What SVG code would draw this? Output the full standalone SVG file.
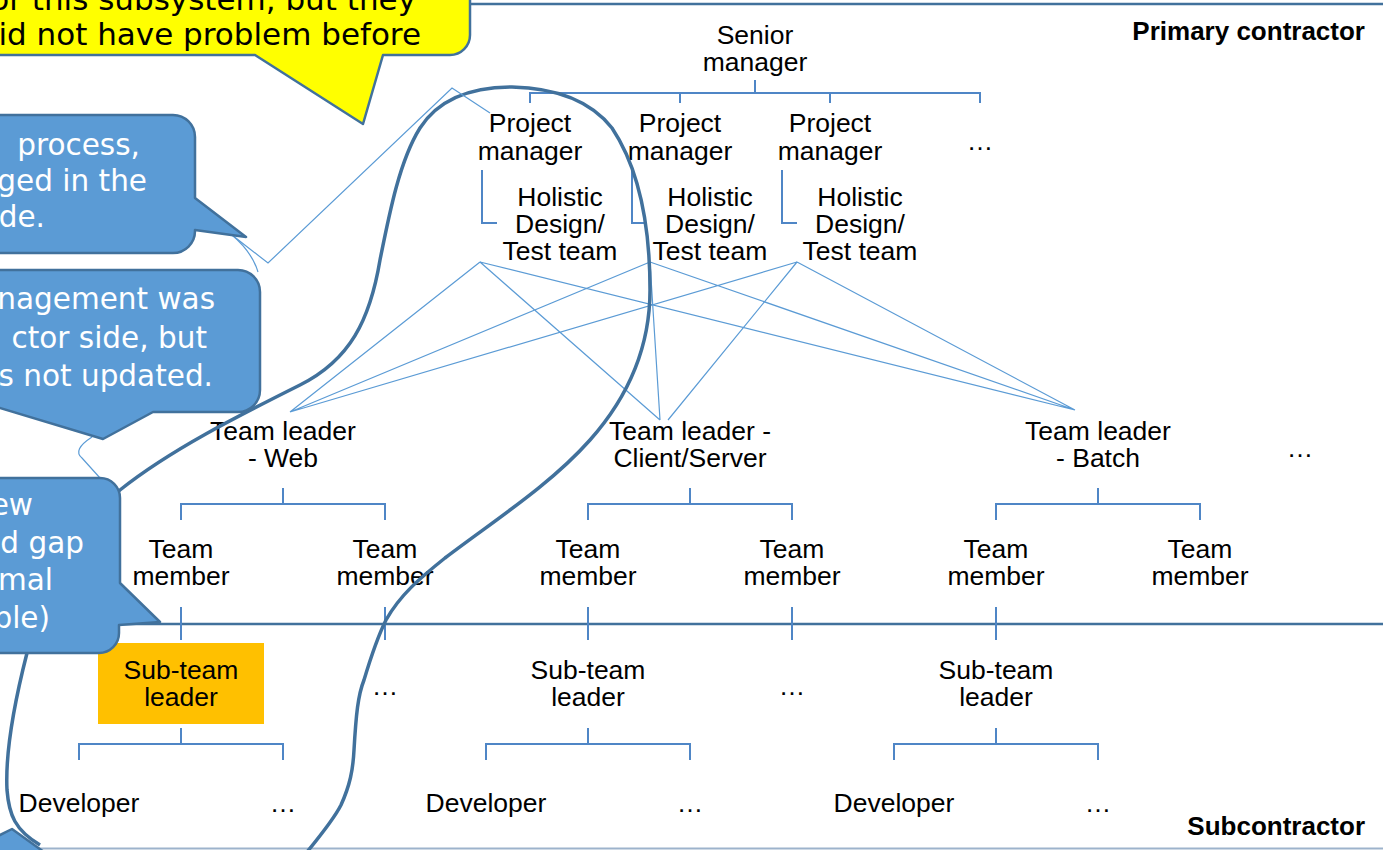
<svg xmlns="http://www.w3.org/2000/svg" width="1383" height="850" viewBox="0 0 1383 850">
  <defs>
    <style>
      .lbl { font-family: "Liberation Sans", Arial, sans-serif; font-size: 26.5px; fill: #000; text-anchor: middle; }
      .zone { font-family: "Liberation Sans", Arial, sans-serif; font-size: 26px; font-weight: bold; fill: #000; text-anchor: end; }
      .tree { fill: none; stroke: #4F86C6; stroke-width: 2; }
      .thin { fill: none; stroke: #5B9BD5; stroke-width: 1.2; }
      .frame { stroke: #41719C; stroke-width: 2.5; }
      .callout { fill: #5B9BD5; stroke: #41719C; stroke-width: 2.5; stroke-linejoin: round; }
      .ctext { font-family: "DejaVu Sans", Verdana, sans-serif; font-size: 29.5px; fill: #fff; text-anchor: end; }
      .ytext { font-family: "DejaVu Sans", Verdana, sans-serif; font-size: 31px; fill: #000; text-anchor: end; }
      .loop { fill: none; stroke: #41719C; stroke-width: 3.5; }
    </style>
  </defs>

  <rect width="1383" height="850" fill="#fff"/>

  <!-- contractor boundaries -->
  <g id="frame">
    <line class="frame" x1="468" y1="4" x2="1383" y2="4"/>
    <line class="frame" x1="0" y1="624" x2="1383" y2="624"/>
    <line x1="0" y1="848.5" x2="1383" y2="848.5" stroke="#9DB3CC" stroke-width="2"/>
    <text class="zone" x="1365" y="40">Primary contractor</text>
    <text class="zone" x="1365" y="835">Subcontractor</text>
  </g>

  <!-- tree connectors -->
  <g id="connectors">
    <path class="tree" d="M755 80V93M530 103V93H980V103M680 93V103M830 93V103"/>
    <path class="tree" d="M482 170V223H497M632 170V223H647M782 170V223H797"/>
    <path class="thin" d="M480 262L290 412M480 262L660 420M480 262L1075 410M650 262L290 412M650 262L660 420M650 262L1075 410M797 262L290 412M797 262L668 420M797 262L1075 410"/>
    <path class="tree" d="M283 488V504M181 520V504H385V520M690 488V504M588 520V504H792V520M1098 488V504M996 520V504H1200V520"/>
    <path class="tree" d="M181 607V640M385 607V640M588 607V640M792 607V640M996 607V640"/>
    <path class="tree" d="M181 728V744M79 760V744H283V760M588 728V744M486 760V744H690V760M996 728V744M894 760V744H1098V760"/>
  </g>

  <!-- primary contractor nodes -->
  <g id="senior-manager"><text class="lbl" x="755" y="44">Senior</text><text class="lbl" x="755" y="71">manager</text></g>
  <g id="pm-1"><text class="lbl" x="530" y="132">Project</text><text class="lbl" x="530" y="160">manager</text></g>
  <g id="pm-2"><text class="lbl" x="680" y="132">Project</text><text class="lbl" x="680" y="160">manager</text></g>
  <g id="pm-3"><text class="lbl" x="830" y="132">Project</text><text class="lbl" x="830" y="160">manager</text></g>
  <g id="pm-more"><text class="lbl" x="980" y="150">…</text></g>
  <g id="test-1"><text class="lbl" x="560" y="206">Holistic</text><text class="lbl" x="560" y="233">Design/</text><text class="lbl" x="560" y="260">Test team</text></g>
  <g id="test-2"><text class="lbl" x="710" y="206">Holistic</text><text class="lbl" x="710" y="233">Design/</text><text class="lbl" x="710" y="260">Test team</text></g>
  <g id="test-3"><text class="lbl" x="860" y="206">Holistic</text><text class="lbl" x="860" y="233">Design/</text><text class="lbl" x="860" y="260">Test team</text></g>
  <g id="tl-web"><text class="lbl" x="283" y="440">Team leader</text><text class="lbl" x="283" y="467">- Web</text></g>
  <g id="tl-cs"><text class="lbl" x="690" y="440">Team leader -</text><text class="lbl" x="690" y="467">Client/Server</text></g>
  <g id="tl-batch"><text class="lbl" x="1098" y="440">Team leader</text><text class="lbl" x="1098" y="467">- Batch</text></g>
  <g id="tl-more"><text class="lbl" x="1300" y="457">…</text></g>
  <g id="tm-1"><text class="lbl" x="181" y="558">Team</text><text class="lbl" x="181" y="585">member</text></g>
  <g id="tm-2"><text class="lbl" x="385" y="558">Team</text><text class="lbl" x="385" y="585">member</text></g>
  <g id="tm-3"><text class="lbl" x="588" y="558">Team</text><text class="lbl" x="588" y="585">member</text></g>
  <g id="tm-4"><text class="lbl" x="792" y="558">Team</text><text class="lbl" x="792" y="585">member</text></g>
  <g id="tm-5"><text class="lbl" x="996" y="558">Team</text><text class="lbl" x="996" y="585">member</text></g>
  <g id="tm-6"><text class="lbl" x="1200" y="558">Team</text><text class="lbl" x="1200" y="585">member</text></g>

  <!-- subcontractor nodes -->
  <g id="stl-1"><rect x="98" y="643" width="166" height="81" fill="#FFC000"/><text class="lbl" x="181" y="679">Sub-team</text><text class="lbl" x="181" y="706">leader</text></g>
  <g id="stl-2"><text class="lbl" x="385" y="695">…</text></g>
  <g id="stl-3"><text class="lbl" x="588" y="679">Sub-team</text><text class="lbl" x="588" y="706">leader</text></g>
  <g id="stl-4"><text class="lbl" x="792" y="695">…</text></g>
  <g id="stl-5"><text class="lbl" x="996" y="679">Sub-team</text><text class="lbl" x="996" y="706">leader</text></g>
  <g id="dev-1"><text class="lbl" x="79" y="812">Developer</text></g>
  <g id="dev-2"><text class="lbl" x="283" y="812">…</text></g>
  <g id="dev-3"><text class="lbl" x="486" y="812">Developer</text></g>
  <g id="dev-4"><text class="lbl" x="690" y="812">…</text></g>
  <g id="dev-5"><text class="lbl" x="894" y="812">Developer</text></g>
  <g id="dev-6"><text class="lbl" x="1098" y="812">…</text></g>

  <!-- freehand loop around the affected chain -->
  <path id="loop" class="loop" d="M307 852C325 830 336 815 341 805C350 785 353 770 354 750C356 715 358 695 364 680C370 660 376 640 386 620C400 595 420 578 445 558C495 520 550 485 590 440C630 395 650 345 650 290C650 230 640 170 612 128C590 100 555 88 512 87C470 87 438 100 420 128C400 160 390 210 380 260C370 320 350 360 300 385C240 415 170 450 120 490C75 530 40 600 27 653C15 700 5 750 7 790C9 815 15 830 40 845"/>

  <!-- thin pointer lines from callouts -->
  <g id="pointers">
    <path class="thin" d="M232 235L268 263L452 88L490 113"/>
    <path class="thin" d="M232 235Q252 252 258 272"/>
    <path class="thin" d="M92 437Q72 450 82 458L100 478"/>
  </g>

  <!-- callouts -->
  <g id="callout-yellow">
    <path d="M-20 -60H450A20 20 0 0 1 470 -40V35A20 20 0 0 1 450 55H383L363 124L255 55H-20Z" fill="#FFFF00" stroke="#41719C" stroke-width="2.5" stroke-linejoin="round"/>
    <text class="ytext" x="416" y="10">or this subsystem, but they</text>
    <text class="ytext" x="421" y="45">id not have problem before</text>
  </g>
  <g id="callout-1">
    <path class="callout" d="M-20 115H173A22 22 0 0 1 195 137V198L246 237L195 230V231A22 22 0 0 1 173 253H-20Z"/>
    <text class="ctext" x="140" y="155">process,</text>
    <text class="ctext" x="147" y="191">ged in the</text>
    <text class="ctext" x="45" y="227">de.</text>
  </g>
  <g id="callout-2">
    <path class="callout" d="M-20 270H238A22 22 0 0 1 260 292V390A22 22 0 0 1 238 412H153L103 439L-20 402Z"/>
    <text class="ctext" x="215" y="309">nagement was</text>
    <text class="ctext" x="207" y="348">ctor side, but</text>
    <text class="ctext" x="213" y="386">s not updated.</text>
  </g>
  <g id="callout-3">
    <path class="callout" d="M-20 478H100A20 20 0 0 1 120 498V583L160 622L119 625V633A20 20 0 0 1 99 653H-20Z"/>
    <text class="ctext" x="33" y="515">ew</text>
    <text class="ctext" x="84" y="553">d gap</text>
    <text class="ctext" x="53" y="590">mal</text>
    <text class="ctext" x="50" y="628">ble)</text>
  </g>
  <g id="callout-4">
    <path class="callout" d="M-10 840L12 829L44 852H-10Z"/>
  </g>
</svg>
